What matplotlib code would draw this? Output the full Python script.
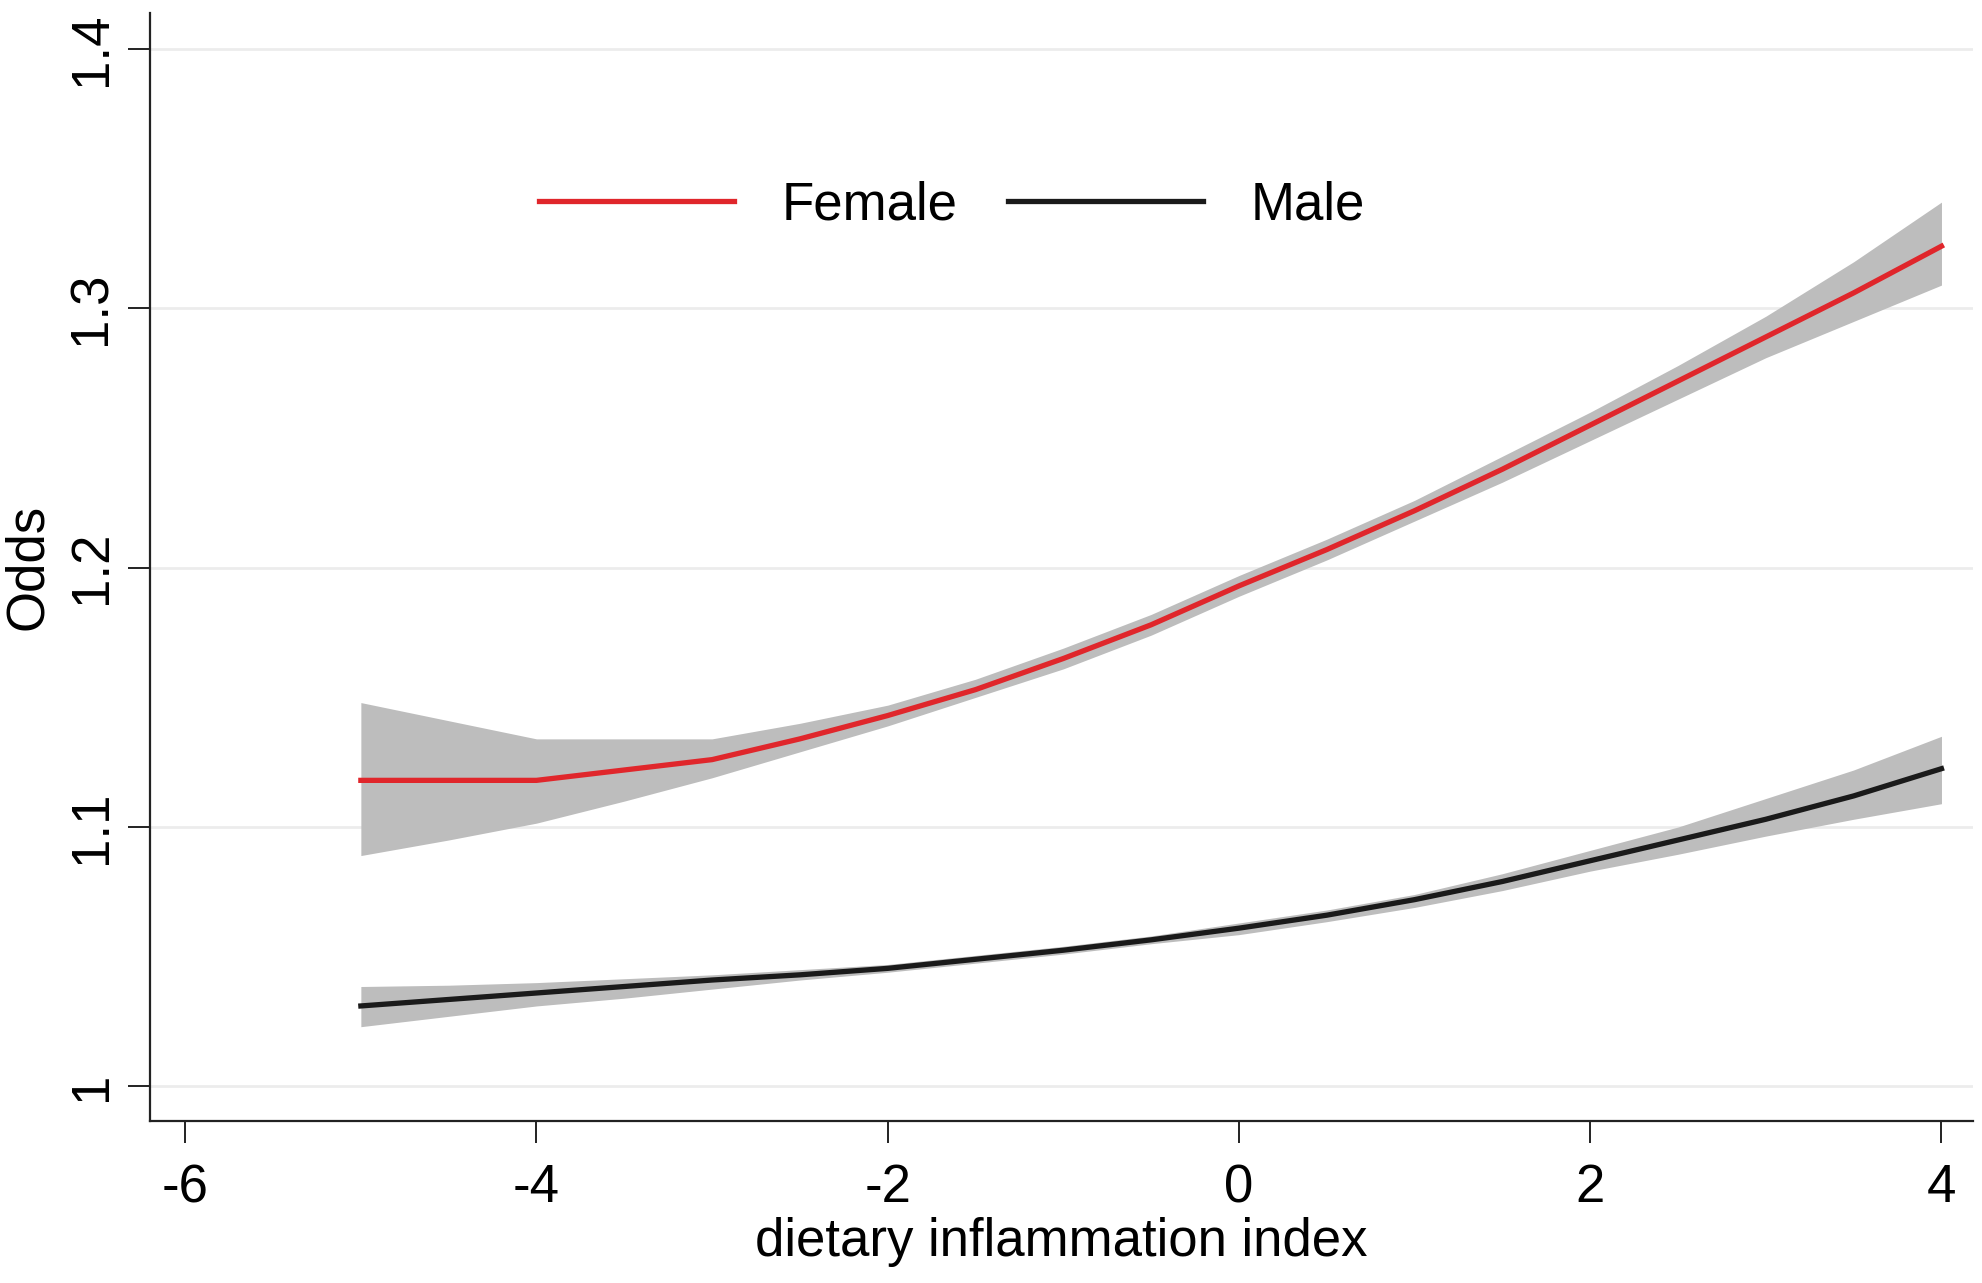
import matplotlib
matplotlib.use("Agg")
import matplotlib.pyplot as plt
from matplotlib import font_manager

# values (odds by dietary inflammation index)
dii = [-5, -4.5, -4, -3.5, -3, -2.5, -2, -1.5, -1, -0.5,
       0, 0.5, 1, 1.5, 2, 2.5, 3, 3.5, 4]

female_odds = [1.118, 1.118, 1.118, 1.122, 1.126, 1.134, 1.143, 1.153, 1.165, 1.178,
               1.193, 1.207, 1.222, 1.238, 1.255, 1.272, 1.289, 1.306, 1.324]
female_upper = [1.148, 1.141, 1.134, 1.134, 1.134, 1.140, 1.147, 1.157, 1.169, 1.182,
                1.197, 1.211, 1.226, 1.243, 1.260, 1.278, 1.297, 1.318, 1.341]
female_lower = [1.089, 1.095, 1.1015, 1.110, 1.119, 1.129, 1.139, 1.150, 1.161, 1.174,
                1.189, 1.203, 1.218, 1.233, 1.249, 1.265, 1.281, 1.295, 1.309]

male_odds = [1.031, 1.0335, 1.036, 1.0385, 1.041, 1.043, 1.0455, 1.049, 1.0525, 1.0565,
             1.061, 1.066, 1.072, 1.079, 1.087, 1.095, 1.103, 1.112, 1.1225]
male_upper = [1.0385, 1.039, 1.040, 1.0415, 1.043, 1.045, 1.047, 1.0505, 1.054, 1.058,
              1.063, 1.068, 1.074, 1.082, 1.091, 1.100, 1.111, 1.122, 1.135]
male_lower = [1.023, 1.027, 1.031, 1.034, 1.0375, 1.041, 1.044, 1.0475, 1.051, 1.055,
              1.0585, 1.0635, 1.069, 1.0755, 1.083, 1.0895, 1.0965, 1.103, 1.109]

x_ticks = [-6, -4, -2, 0, 2, 4]
y_ticks = [1.0, 1.1, 1.2, 1.3, 1.4]
y_tick_labels = ["1", "1.1", "1.2", "1.3", "1.4"]

# narrow sans if present, otherwise plain Liberation Sans
installed = {f.name for f in font_manager.fontManager.ttflist}
family = "Liberation Sans Narrow" if "Liberation Sans Narrow" in installed else "Liberation Sans"
plt.rcParams["font.family"] = [family, "DejaVu Sans"]
fs = 38

fig = plt.figure(figsize=(19.83, 12.83), dpi=100)
ax = fig.add_axes([0.0757, 0.126, 0.9193, 0.864])

band_color = "#bdbdbd"
ax.fill_between(dii, female_lower, female_upper, color=band_color, linewidth=0, zorder=2)
ax.fill_between(dii, male_lower, male_upper, color=band_color, linewidth=0, zorder=2)
ax.plot(dii, female_odds, color="#e0262b", linewidth=3.8, label="Female", zorder=3)
ax.plot(dii, male_odds, color="#1a1a1a", linewidth=3.8, label="Male", zorder=3)

ax.set_xlim(-6.2, 4.18)
ax.set_ylim(0.9865, 1.414)
ax.set_xticks(x_ticks)
ax.set_xticklabels([str(v) for v in x_ticks])
ax.set_yticks(y_ticks)
ax.set_yticklabels(y_tick_labels, rotation=90, va="center")

ax.grid(axis="y", color="#ececec", linewidth=2)
ax.set_axisbelow(True)
for side in ("top", "right"):
    ax.spines[side].set_visible(False)
for side in ("left", "bottom"):
    ax.spines[side].set_linewidth(1.6)
    ax.spines[side].set_color("#222222")

ax.tick_params(axis="both", direction="out", length=16, width=1.4, color="#222222",
               labelsize=fs)
ax.tick_params(axis="x", pad=14)
ax.tick_params(axis="y", pad=8)

ax.set_xlabel("dietary inflammation index", fontsize=fs, va="top")
ax.xaxis.set_label_coords(0.5, -0.086)
ax.set_ylabel("Odds", fontsize=fs)
ax.yaxis.set_label_coords(-0.053, 0.5)

ax.legend(loc="center", bbox_to_anchor=(0.44, 0.826), ncol=2, frameon=False,
          fontsize=fs, handlelength=3.7, handletextpad=0.9, columnspacing=0.95)

plt.savefig("out.png", dpi=100)
plt.close("all")
